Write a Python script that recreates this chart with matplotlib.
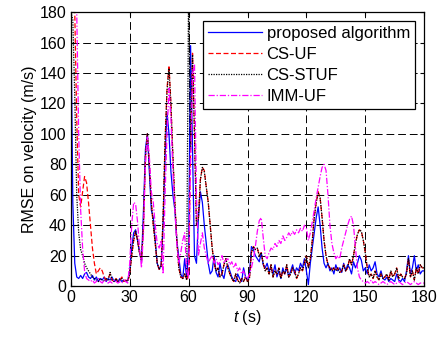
import numpy as np
import matplotlib
matplotlib.use("Agg")
import matplotlib.pyplot as plt

plt.rcParams['font.family'] = ['Liberation Sans', 'DejaVu Sans']
plt.rcParams['mathtext.fontset'] = 'custom'
plt.rcParams['mathtext.it'] = 'Liberation Sans:italic'
plt.rcParams['mathtext.rm'] = 'Liberation Sans'

t = np.arange(0, 181, 1)

proposed = [
    180, 55, 15, 6, 5, 7, 5, 8, 9, 6,
    5, 7, 4, 6, 3, 5, 4, 6, 3, 5,
    4, 6, 3, 4, 3, 5, 3, 4, 3, 4,
    10, 25, 35, 37, 30, 22, 16, 50, 90, 100,
    75, 50, 45, 30, 15, 11, 14, 40, 85, 114,
    100, 75, 60, 50, 30, 19, 8, 5, 18, 5,
    25, 158, 90, 20, 15, 45, 62, 55, 40, 28,
    15, 8, 10, 20, 9, 6, 15, 8, 5, 12,
    14, 10, 6, 4, 3, 8, 5, 3, 12, 6,
    4, 8, 26, 24, 20, 18, 16, 22, 14, 12,
    15, 10, 12, 8, 14, 6, 10, 5, 12, 8,
    12, 6, 10, 14, 8, 12, 10, 15, 12, 18,
    10, 1, 15, 25, 35, 45, 52, 40, 25, 15,
    12, 15, 10, 12, 8, 14, 10, 12, 9, 15,
    10, 14, 12, 8, 16, 12, 15, 20, 17, 10,
    12, 8, 14, 10, 12, 16, 8, 6, 10, 5,
    4, 6, 3, 5, 4, 3, 8, 4, 3, 5,
    3, 10, 20, 8, 12, 20, 10, 14, 8, 10,
    10]

cs_uf = [
    180, 180, 180, 110, 60, 52, 62, 72, 68, 55,
    40, 25, 15, 8, 10, 12, 10, 6, 4, 5,
    8, 4, 3, 5, 3, 4, 6, 3, 4, 3,
    8, 20, 30, 36, 30, 22, 17, 40, 85, 100,
    80, 55, 40, 28, 15, 11, 13, 45, 95, 130,
    145, 120, 85, 55, 30, 12, 6, 5, 8, 4,
    8, 90, 153, 100, 40, 45, 70, 78, 76, 65,
    55, 40, 25, 15, 10, 12, 6, 8, 14, 18,
    12, 8, 5, 3, 8, 4, 2, 5, 3, 6,
    3, 5, 22, 26, 24, 25, 20, 22, 15, 10,
    12, 8, 14, 6, 10, 8, 12, 5, 10, 8,
    14, 6, 8, 12, 10, 5, 8, 12, 10, 15,
    20, 12, 18, 30, 45, 55, 62, 58, 45, 30,
    20, 14, 12, 10, 12, 10, 12, 9, 10, 14,
    10, 12, 18, 14, 20, 28, 34, 37, 36, 30,
    22, 12, 6, 8, 5, 10, 6, 4, 8, 5,
    6, 8, 4, 10, 6, 8, 12, 5, 8, 6,
    5, 8, 18, 6, 10, 4, 12, 8, 14, 12,
    12]

cs_stuf = [
    180, 175, 125, 60, 35, 24, 20, 15, 12, 10,
    8, 6, 5, 4, 3, 5, 4, 3, 5, 4,
    9, 4, 3, 5, 3, 4, 5, 3, 4, 3,
    8, 20, 30, 36, 30, 22, 17, 40, 85, 100,
    80, 55, 40, 28, 15, 11, 13, 45, 95, 128,
    143, 118, 85, 55, 30, 12, 6, 5, 8, 4,
    200, 90, 152, 100, 40, 45, 70, 78, 75, 65,
    55, 40, 25, 15, 10, 12, 6, 8, 14, 18,
    12, 8, 5, 3, 8, 4, 2, 5, 3, 6,
    3, 5, 22, 26, 24, 25, 20, 22, 15, 10,
    12, 8, 14, 6, 10, 8, 12, 5, 10, 8,
    14, 6, 8, 12, 10, 5, 8, 12, 10, 15,
    20, 12, 18, 30, 45, 55, 61, 58, 45, 30,
    20, 14, 12, 10, 12, 10, 12, 9, 10, 14,
    10, 12, 18, 14, 20, 28, 34, 37, 36, 30,
    22, 12, 6, 8, 5, 10, 6, 4, 8, 5,
    6, 8, 4, 10, 6, 8, 12, 5, 8, 6,
    5, 8, 18, 6, 10, 4, 12, 8, 14, 12,
    12]

imm_uf = [
    180, 180, 180, 180, 100, 50, 25, 10, 5, 4,
    3, 4, 2, 3, 5, 3, 2, 4, 3, 2,
    3, 2, 4, 3, 2, 3, 2, 4, 3, 2,
    15, 40, 55, 54, 42, 25, 12, 35, 80, 98,
    85, 62, 55, 40, 28, 25, 30, 8, 60, 100,
    130, 110, 75, 50, 28, 15, 22, 30, 35, 10,
    5, 80, 140, 146, 60, 20, 28, 35, 25, 20,
    15, 18, 20, 15, 18, 14, 16, 20, 15, 17,
    18, 14, 16, 12, 15, 10, 12, 8, 10, 6,
    5, 8, 12, 18, 26, 36, 43, 45, 32, 20,
    18, 22, 25, 24, 28, 26, 30, 28, 33, 30,
    32, 35, 33, 36, 34, 37, 35, 38, 36, 40,
    38, 30, 35, 42, 50, 58, 65, 72, 78, 80,
    76, 60, 40, 28, 22, 18, 20, 18, 25, 30,
    35, 40, 44, 46, 40, 25, 12, 6, 4, 3,
    2, 3, 2, 4, 2, 3, 2, 1, 2, 3,
    2, 1, 2, 3, 2, 1, 2, 3, 2, 1,
    2, 3, 2, 1, 2, 3, 2, 1, 2, 2,
    2]

labels = ['proposed algorithm', 'CS-UF', 'CS-STUF', 'IMM-UF']
xticks = [0, 30, 60, 90, 120, 150, 180]
yticks = [0, 20, 40, 60, 80, 100, 120, 140, 160, 180]

fig = plt.figure(figsize=(4.4, 3.37), dpi=100)
ax = fig.add_axes([0.161, 0.151, 0.803, 0.813])

ax.plot(t, proposed, color='#0000ff', lw=0.9, ls='-', label=labels[0])
ax.plot(t, cs_uf, color='#ff0000', lw=0.9, ls=(0, (4, 2)), label=labels[1])
ax.plot(t, cs_stuf, color='#000000', lw=0.9, ls=(0, (1, 1)), label=labels[2])
ax.plot(t, imm_uf, color='#ff00ff', lw=0.9, ls=(0, (5, 1.5, 1, 1.5)), label=labels[3])

ax.set_xlim(0, 180)
ax.set_ylim(0, 180)
ax.set_xticks(xticks)
ax.set_yticks(yticks)
ax.grid(True, color='black', ls=(0, (8, 4)), lw=0.7)
ax.tick_params(direction='in', top=True, right=True, labelsize=11.5, length=3, pad=3)
for s in ax.spines.values():
    s.set_linewidth(0.9)

ax.set_xlabel('$t$ (s)', fontsize=11.5, labelpad=2)
ax.set_ylabel('RMSE on velocity (m/s)', fontsize=11.5, labelpad=2)

leg = ax.legend(loc='upper right', fontsize=12, frameon=True, fancybox=False,
                edgecolor='black', framealpha=1, borderaxespad=0.55,
                handlelength=3.2, handletextpad=0.3, labelspacing=0.35,
                borderpad=0.3)
leg.get_frame().set_linewidth(0.9)

fig.savefig('out.png', dpi=100)
